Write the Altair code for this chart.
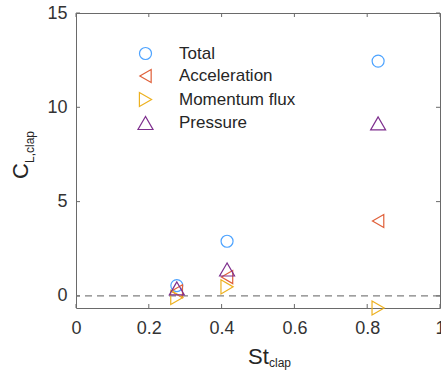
import altair as alt
import pandas as pd

FONT = "Liberation Sans"

st = [0.277, 0.415, 0.83]
series_names = ["Total", "Acceleration", "Momentum flux", "Pressure"]
total = [0.55, 2.9, 12.45]
acceleration = [0.25, 1.0, 3.97]
momentum_flux = [-0.08, 0.48, -0.64]
pressure = [0.4, 1.4, 9.15]
colors = ["#4DA3FF", "#E0603A", "#EDB120", "#7E2F8E"]
shapes = ["circle", "triangle-left", "triangle-right", "triangle-up"]
sizes = [144, 225, 225, 225]
x_ticks = [0, 0.2, 0.4, 0.6, 0.8, 1]
y_ticks = [0, 5, 10, 15]
x_title_main, x_title_sub = "St", "clap"
y_title_main, y_title_sub = "C", "L,clap"

rows = []
for name, vals in zip(series_names, [total, acceleration, momentum_flux, pressure]):
    for s, v in zip(st, vals):
        rows.append({"St": s, "CL": v, "series": name})
df = pd.DataFrame(rows)

W, H = 364, 295
TXT = "#333333"
BOX = "#6a6a6a"
xscale = alt.Scale(domain=[0, 1], nice=False, zero=False)
yscale = alt.Scale(domain=[-0.64, 15], nice=False, zero=False)
x_axis = alt.Axis(
    values=x_ticks, format="~g", title=None, ticks=False, tickSize=0, domain=False,
    grid=False, labelFontSize=18, labelPadding=11, labelFont=FONT, labelColor=TXT,
    labelFlush=False, labelOverlap=False)
y_axis = alt.Axis(
    values=y_ticks, title=None, ticks=False, tickSize=0, domain=False, grid=False,
    labelFontSize=18, labelPadding=9, labelFont=FONT, labelColor=TXT,
    labelFlush=False, labelOverlap=False)

legend = alt.Legend(
    title=None, orient="none", legendX=61, legendY=32, padding=0,
    labelFont=FONT, labelFontSize=17, labelColor="#262626", labelOffset=25,
    rowPadding=4.5, symbolStrokeWidth=1.2,
)

points = alt.Chart(df).mark_point(filled=False, strokeWidth=1.2, opacity=1).encode(
    x=alt.X("St:Q", scale=xscale, axis=x_axis),
    y=alt.Y("CL:Q", scale=yscale, axis=y_axis),
    color=alt.Color("series:N", scale=alt.Scale(domain=series_names, range=colors), legend=legend),
    shape=alt.Shape("series:N", scale=alt.Scale(domain=series_names, range=shapes), legend=legend),
    size=alt.Size("series:N", scale=alt.Scale(domain=series_names, range=sizes), legend=legend),
)

zero = alt.Chart(pd.DataFrame({"y": [0]})).mark_rule(
    color="#808080", strokeDash=[7, 5], strokeWidth=1.2
).encode(y=alt.Y("y:Q", scale=yscale, axis=y_axis))

xt = pd.DataFrame({"t": x_ticks})
yt = pd.DataFrame({"t": y_ticks})
tick_style = dict(color=BOX, strokeWidth=1)
xtick_b = alt.Chart(xt).mark_rule(**tick_style).encode(
    x=alt.X("t:Q", scale=xscale, axis=x_axis), y=alt.value(H), y2=alt.value(H - 4))
xtick_t = alt.Chart(xt).mark_rule(**tick_style).encode(
    x=alt.X("t:Q", scale=xscale, axis=x_axis), y=alt.value(0), y2=alt.value(4))
ytick_l = alt.Chart(yt).mark_rule(**tick_style).encode(
    y=alt.Y("t:Q", scale=yscale, axis=y_axis), x=alt.value(0), x2=alt.value(4))
ytick_r = alt.Chart(yt).mark_rule(**tick_style).encode(
    y=alt.Y("t:Q", scale=yscale, axis=y_axis), x=alt.value(W), x2=alt.value(W - 4))

def label(txt, x, y, size, angle=0, align="left"):
    return alt.Chart(pd.DataFrame({"t": [txt]})).mark_text(
        align=align, baseline="alphabetic", fontSize=size, font=FONT, color="#262626", angle=angle
    ).encode(text="t:N", x=alt.value(x), y=alt.value(y))

xl_main = label(x_title_main, 172, 351, 22)
xl_sub = label(x_title_sub, 193, 354, 12)
yl_main = label(y_title_main, -48, 158, 22, angle=270, align="center")
yl_sub = label(y_title_sub, -42, 150, 12, angle=270, align="left")

chart = alt.layer(
    zero, xtick_b, xtick_t, ytick_l, ytick_r, points, xl_main, xl_sub, yl_main, yl_sub
).properties(
    width=W, height=H,
    padding={"left": 76, "top": 13, "right": 1, "bottom": 68},
    autosize=alt.AutoSizeParams(type="none"),
).configure_view(stroke=BOX, strokeWidth=1)

chart.save("out.html", embed_options={"renderer": "svg", "actions": False})
